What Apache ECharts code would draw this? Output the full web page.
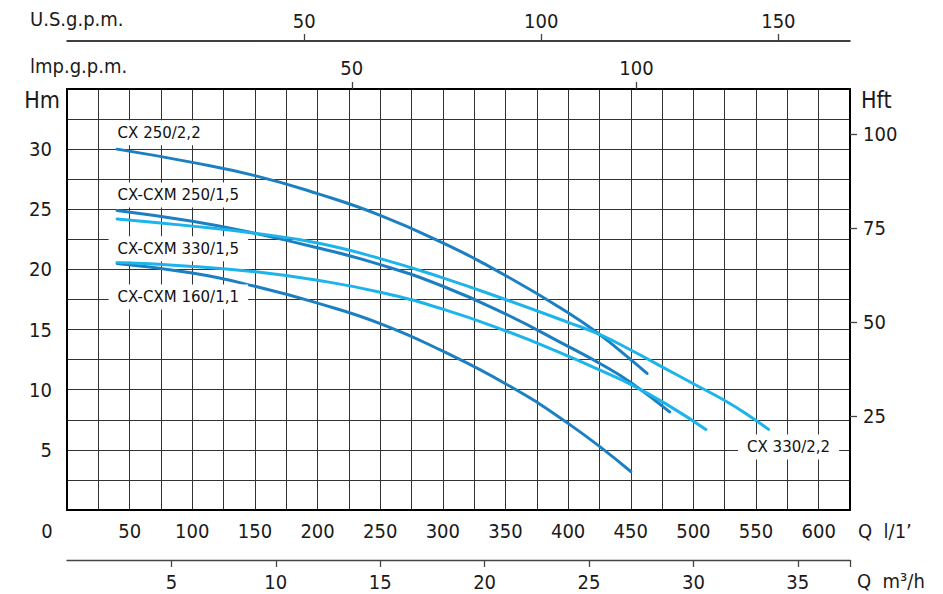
<!DOCTYPE html>
<html>
<head>
<meta charset="utf-8">
<script src="https://cdn.jsdelivr.net/npm/echarts@6/dist/echarts.min.js"></script>
<style>
html,body{margin:0;padding:0;background:#fff;}
#c{width:943px;height:594px;}
</style>
</head>
<body>
<div id="c"></div>
<script>
// ---- data ----
const qLminTicks = [0, 50, 100, 150, 200, 250, 300, 350, 400, 450, 500, 550, 600];
const qM3hTicks = [5, 10, 15, 20, 25, 30, 35];
const usGpmTicks = [50, 100, 150];
const impGpmTicks = [50, 100];
const hmTicks = [5, 10, 15, 20, 25, 30];
const hftTicks = [25, 50, 75, 100];

const Q_MAX = 625;      // l/min
const H_MAX = 35;       // m
const HFT_MAX = 112;    // ft, as drawn on the reference's right scale

// CX 250/2,2
const qCX250_22 = [40, 100, 150, 200, 250, 300, 350, 400, 425, 450, 463];
const hCX250_22 = [30.0, 28.9, 27.8, 26.3, 24.5, 22.2, 19.5, 16.4, 14.6, 12.5, 11.35];
// CX-CXM 250/1,5
const qCXM250_15 = [40, 100, 150, 200, 250, 300, 350, 400, 425, 450, 481];
const hCXM250_15 = [24.9, 24.0, 23.0, 21.8, 20.4, 18.6, 16.3, 13.6, 12.2, 10.6, 8.15];
// CX 330/2,2
const qCX330_22 = [40, 100, 150, 200, 250, 300, 350, 400, 425, 450, 475, 500, 525, 545, 560];
const hCX330_22 = [24.2, 23.6, 23.0, 22.2, 20.9, 19.3, 17.5, 15.6, 14.6, 13.3, 11.9, 10.5, 9.1, 7.8, 6.7];
// CX-CXM 330/1,5
const qCXM330_15 = [40, 100, 150, 200, 250, 300, 350, 400, 425, 450, 480, 510];
const hCXM330_15 = [20.6, 20.25, 19.8, 19.1, 18.1, 16.7, 14.9, 12.8, 11.65, 10.45, 8.7, 6.7];
// CX-CXM 160/1,1
const qCXM160_11 = [40, 100, 150, 200, 250, 300, 350, 400, 450];
const hCXM160_11 = [20.5, 19.7, 18.6, 17.2, 15.5, 13.2, 10.5, 7.2, 3.2];

// ---- styling ----
const DARK = '#1b7fc2';
const LIGHT = '#1cb4ea';
const NUM_FONT = "'DejaVu Sans Condensed', 'Liberation Sans', sans-serif";
const LBL_FONT = "'DejaVu Sans', sans-serif";
const numStyle = { fontFamily: NUM_FONT, fontSize: 20, color: '#1a1a1a' };

function pairs(q, h) { return q.map((v, i) => [v, h[i]]); }

function curveLabel(name, q, h, idx, offset) {
  return {
    silent: true,
    symbol: 'rect',
    symbolSize: 1,
    itemStyle: { color: 'rgba(0,0,0,0)' },
    data: [{ coord: [q[idx], h[idx]] }],
    label: {
      show: true,
      formatter: name,
      position: offset,
      align: 'left',
      verticalAlign: 'middle',
      backgroundColor: '#fff',
      padding: [5, 9, 5, 9],
      fontFamily: LBL_FONT,
      fontSize: 15,
      color: '#111'
    }
  };
}

function curve(name, q, h, color, labelIdx, offset) {
  return {
    name: name,
    type: 'line',
    xAxisIndex: 0,
    yAxisIndex: 0,
    data: pairs(q, h),
    smooth: 0.5,
    showSymbol: false,
    symbol: 'none',
    lineStyle: { color: color, width: 3, cap: 'round' },
    itemStyle: { color: color },
    markPoint: curveLabel(name, q, h, labelIdx, offset)
  };
}

const chart = echarts.init(document.getElementById('c'), null, { renderer: 'svg' });

chart.setOption({
  animation: false,
  backgroundColor: '#fff',
  grid: { left: 67, top: 89, width: 783, height: 421, containLabel: false },
  xAxis: [
    { // Q l/min (bottom)
      type: 'value', position: 'bottom', min: 0, max: Q_MAX, interval: 25,
      axisLine: { show: true, onZero: false, lineStyle: { color: '#000', width: 2 } },
      axisTick: { show: false },
      splitLine: { show: true, lineStyle: { color: '#333', width: 1 } },
      axisLabel: {
        customValues: qLminTicks, margin: 11, ...numStyle,
        formatter: v => v === 0 ? '{z|0}' : String(v),
        rich: { z: { padding: [0, 40, 0, 0], fontFamily: NUM_FONT, fontSize: 20, color: '#1a1a1a' } }
      },
      name: 'Q  l/1’', nameLocation: 'end', nameGap: 8,
      nameTextStyle: { ...numStyle, align: 'left', verticalAlign: 'top', padding: [11, 0, 0, 0] }
    },
    { // Q m3/h (second bottom line)
      type: 'value', position: 'bottom', offset: 50, min: 0, max: Q_MAX * 60 / 1000, interval: 5,
      axisLine: { show: true, onZero: false, lineStyle: { color: '#444', width: 1.3 } },
      axisTick: { show: true, customValues: qM3hTicks.concat([Q_MAX * 60 / 1000]), length: 7, lineStyle: { color: '#444', width: 1.3 } },
      splitLine: { show: false },
      axisLabel: { customValues: qM3hTicks, margin: 12, ...numStyle },
      name: 'Q  m³/h', nameLocation: 'end', nameGap: 7,
      nameTextStyle: { ...numStyle, align: 'left', verticalAlign: 'top', padding: [11, 0, 0, 0] }
    },
    { // Imp. g.p.m. (top border)
      type: 'value', position: 'top', min: 0, max: Q_MAX / 4.54609,
      axisLine: { show: true, onZero: false, lineStyle: { color: '#000', width: 2 } },
      axisTick: { show: true, customValues: impGpmTicks, length: 7, lineStyle: { color: '#444', width: 1.3 } },
      splitLine: { show: false },
      axisLabel: { customValues: impGpmTicks, margin: 11, ...numStyle },
      name: 'lmp.g.p.m.', nameLocation: 'start', nameGap: 37,
      nameTextStyle: { ...numStyle, align: 'left', verticalAlign: 'bottom', padding: [0, 0, 13, 0] }
    },
    { // U.S. g.p.m. (upper line)
      type: 'value', position: 'top', offset: 48, min: 0, max: Q_MAX / 3.785411784,
      axisLine: { show: true, onZero: false, lineStyle: { color: '#000', width: 1.5 } },
      axisTick: { show: true, customValues: usGpmTicks, length: 7, lineStyle: { color: '#444', width: 1.3 } },
      splitLine: { show: false },
      axisLabel: { customValues: usGpmTicks, margin: 10, ...numStyle },
      name: 'U.S.g.p.m.', nameLocation: 'start', nameGap: 37,
      nameTextStyle: { ...numStyle, align: 'left', verticalAlign: 'bottom', padding: [0, 0, 12, 0] }
    }
  ],
  yAxis: [
    { // H m (left)
      type: 'value', position: 'left', min: 0, max: H_MAX, interval: 2.5,
      axisLine: { show: true, onZero: false, lineStyle: { color: '#000', width: 2 } },
      axisTick: { show: false },
      splitLine: { show: true, lineStyle: { color: '#333', width: 1 } },
      axisLabel: { customValues: hmTicks, margin: 15, ...numStyle },
      name: 'Hm', nameLocation: 'end', nameGap: -11,
      nameTextStyle: { fontFamily: NUM_FONT, fontSize: 23, color: '#1a1a1a', align: 'right', verticalAlign: 'middle', padding: [0, 7, 0, 0] }
    },
    { // H ft (right)
      type: 'value', position: 'right', min: 0, max: HFT_MAX,
      axisLine: { show: true, onZero: false, lineStyle: { color: '#000', width: 2 } },
      axisTick: { show: true, customValues: hftTicks, length: 7, lineStyle: { color: '#444', width: 1.3 } },
      splitLine: { show: false },
      axisLabel: { customValues: hftTicks, margin: 13, ...numStyle },
      name: 'Hft', nameLocation: 'end', nameGap: -11,
      nameTextStyle: { fontFamily: NUM_FONT, fontSize: 23, color: '#1a1a1a', align: 'left', verticalAlign: 'middle', padding: [0, 0, 0, 11] }
    }
  ],
  series: [
    curve('CX 250/2,2', qCX250_22, hCX250_22, DARK, 0, [-8, -16]),
    curve('CX-CXM 250/1,5', qCXM250_15, hCXM250_15, DARK, 0, [-8, -15]),
    curve('CX-CXM 160/1,1', qCXM160_11, hCXM160_11, DARK, 0, [-8, 34]),
    curve('CX-CXM 330/1,5', qCXM330_15, hCXM330_15, LIGHT, 0, [-8, -13]),
    curve('CX 330/2,2', qCX330_22, hCX330_22, LIGHT, qCX330_22.length - 1, [-30, 18])
  ]
});
</script>
</body>
</html>
